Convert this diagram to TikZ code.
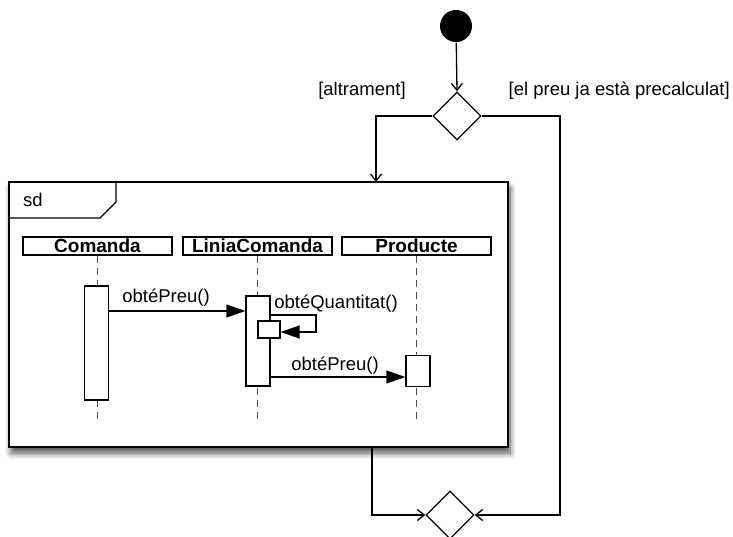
\documentclass[tikz,border=0pt]{standalone}
\usepackage{fontspec}
\setmainfont{Liberation Sans}
\usetikzlibrary{shapes.geometric, arrows.meta, shadows.blur}
\begin{document}
\begin{tikzpicture}[x=1pt, y=-1pt, >={Straight Barb[length=7pt,width=11pt]},
    font=\fontsize{18.5}{21}\selectfont,
    line width=1.3pt,
    head/.style={draw, minimum width=149pt, minimum height=18pt, inner sep=0pt, text height=13pt, text depth=0pt, font=\fontsize{19}{21}\selectfont\bfseries},
    act/.style={draw, fill=white, inner sep=0pt, minimum width=24pt},
    life/.style={dash pattern=on 7pt off 5pt, gray!60!black},
    msg/.style={-{Triangle[length=19pt,width=13pt]}}]
    \useasboundingbox (0,0) rectangle (733,536);

    \node (start) at (456,26) [circle, fill=black, minimum size=32pt, inner sep=0pt] {};
    \node (dec) at (457,116) [diamond, draw, minimum width=48pt, minimum height=48pt, inner sep=0pt] {};
    \node (merge) at (450,515) [diamond, draw, minimum width=48pt, minimum height=48pt, inner sep=0pt] {};
    \node (alt) at (362,91) {[altrament]};
    \node (pre) at (508,91) [anchor=west, inner sep=0pt] {[el preu ja està precalculat]};

    % frame sd
    \node (frame) at (258.5,314.5) [draw, fill=white, line width=1.8pt, minimum width=499pt, minimum height=265pt, inner sep=0pt,
        blur shadow={shadow xshift=2pt, shadow yshift=-6pt, shadow blur radius=6pt, shadow blur steps=10, shadow opacity=70}] {};
    \draw (9,218) -- (100,218) -- (116,202) -- (116,182);
    \node (sd) at (33,200) {sd};

    \node (com) at (97.5,246) [head] {\underline{Comanda}};
    \node (lin) at (257.5,246) [head] {\underline{LiniaComanda}};
    \node (prod) at (416.5,246) [head] {\underline{Producte}};

    \draw[life] (com.south) -- (97.5,420);
    \draw[life] (lin.south) -- (257.5,420);
    \draw[life] (prod.south) -- (416.5,420);

    \node (actcom) at (96.5,343) [act, minimum height=114pt] {};
    \node (actlin) at (258,341) [act, minimum height=90pt] {};
    \node (actq) at (269,329.5) [act, minimum width=22pt, minimum height=17pt] {};
    \node (actprod) at (418,371) [act, minimum height=31pt] {};

    \draw[msg] (actcom.east |- 0,311) -- (actlin.west |- 0,311);
    \node (m1) at (166,298) {obtéPreu()};
    \draw[msg] (actlin.east |- 0,315) -- (316,315) -- (316,332) -- (actq.east |- 0,332);
    \node (q) at (336,304) {obtéQuantitat()};
    \draw[msg] (actlin.east |- 0,377) -- (actprod.west |- 0,377);
    \node (m2) at (335,366) {obtéPreu()};

    % activity flow
    \draw[->] (start) -- (dec.north);
    \draw[->] (dec.west) -- (376,116) -- (376,182);
    \draw[->] (dec.east) -- (560,116) -- (560,515) -- (merge.east);
    \draw[->] (372,447) -- (372,515) -- (merge.west);
\end{tikzpicture}
\end{document}
